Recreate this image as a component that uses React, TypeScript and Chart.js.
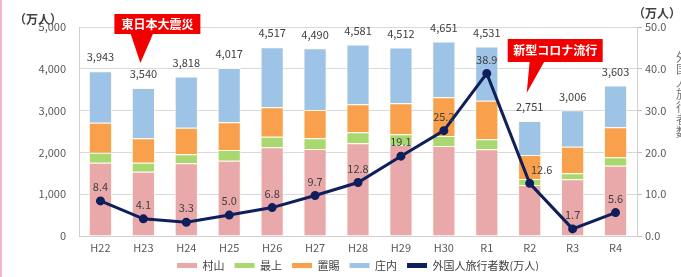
import React, { useEffect, useRef } from "react";
import { Chart, registerables } from "chart.js";

Chart.register(...registerables);

const categories = ["H22", "H23", "H24", "H25", "H26", "H27", "H28", "H29", "H30", "R1", "R2", "R3", "R4"];
const murayama = [1754, 1539, 1738, 1802, 2121, 2081, 2217, 2177, 2153, 2074, 1220, 1356, 1682];
const mogami = [240, 215, 216, 255, 255, 256, 263, 255, 239, 239, 144, 144, 201];
const okitama = [717, 583, 638, 663, 702, 677, 670, 742, 925, 924, 574, 637, 717];
const shonai = [1232, 1203, 1226, 1297, 1439, 1476, 1431, 1338, 1334, 1294, 813, 869, 1003];
const totals = [3943, 3540, 3818, 4017, 4517, 4490, 4581, 4512, 4651, 4531, 2751, 3006, 3603];
const foreign = [8.4, 4.1, 3.3, 5.0, 6.8, 9.7, 12.8, 19.1, 25.2, 38.9, 12.6, 1.7, 5.6];
const leftTicks = [0, 1000, 2000, 3000, 4000, 5000];
const rightTicks = [0, 10, 20, 30, 40, 50];
const seriesNames = ["村山", "最上", "置賜", "庄内", "外国人旅行者数(万人)"];
const unitLabel = "（万人）";
const rightTitle = "外国人旅行者数";
const calloutTexts = ["東日本大震災", "新型コロナ流行"];
const calloutIndex = [1, 10];

const FONT = '"Noto Sans CJK JP", "Noto Sans", sans-serif';
const COLORS = ["#E9A9AA", "#A9D870", "#F8A04B", "#9DC3E6"];
const NAVY = "#0E1F5B";
const lineLabelShift: Record<number, number> = { 10: 12 };

const calloutGeom = [
  { bx0: -29, bx1: 57, by0: 14, by1: 34, base0: -13, base1: 10, tipDx: -3, tipY: 63, size: 12 },
  { bx0: -22, bx1: 73, by0: 39, by1: 62, base0: 0, base1: 15, tipDx: -3, tipY: 93, size: 12 },
];

const decorPlugin = {
  id: "decor",
  afterLayout(chart: any) {
    const lg = chart.legend;
    if (lg) {
      lg.top -= 6;
      lg.bottom -= 6;
    }
  },
  afterDatasetsDraw(chart: any) {
    const ctx = chart.ctx;
    const x = chart.scales.x;
    const y = chart.scales.y;
    const y2 = chart.scales.y2;
    ctx.save();
    ctx.font = `11px ${FONT}`;
    ctx.fillStyle = "#404040";
    ctx.textAlign = "center";
    ctx.textBaseline = "middle";
    totals.forEach((t, i) => {
      ctx.fillText(t.toLocaleString("en-US"), x.getPixelForValue(i), y.getPixelForValue(t) - 14);
    });
    foreign.forEach((v, i) => {
      ctx.fillText(v.toFixed(1), x.getPixelForValue(i) + (lineLabelShift[i] || 0), y2.getPixelForValue(v) - 14);
    });
    calloutTexts.forEach((txt, k) => {
      const g = calloutGeom[k];
      const cx = x.getPixelForValue(calloutIndex[k]);
      ctx.fillStyle = "#F20000";
      ctx.beginPath();
      ctx.rect(cx + g.bx0, g.by0, g.bx1 - g.bx0, g.by1 - g.by0);
      ctx.fill();
      ctx.beginPath();
      ctx.moveTo(cx + g.base0, g.by1 - 1);
      ctx.lineTo(cx + g.tipDx, g.tipY);
      ctx.lineTo(cx + g.base1, g.by1 - 1);
      ctx.closePath();
      ctx.fill();
      ctx.fillStyle = "#FFFFFF";
      ctx.font = `bold ${g.size}px ${FONT}`;
      ctx.fillText(txt, cx + (g.bx0 + g.bx1) / 2, (g.by0 + g.by1) / 2);
    });
    ctx.restore();
  },
  afterDraw(chart: any) {
    const ctx = chart.ctx;
    ctx.save();
    ctx.fillStyle = "#F4B6C8";
    ctx.fillRect(0, 0, 2, chart.height);
    ctx.fillStyle = "#404040";
    ctx.font = `bold 12px ${FONT}`;
    ctx.textBaseline = "middle";
    ctx.textAlign = "center";
    ctx.fillText(unitLabel, 38, 19);
    ctx.fillText(unitLabel, 657, 13);
    ctx.fillStyle = "#777777";
    ctx.font = `12px ${FONT}`;
    Array.from(rightTitle).forEach((ch, i) => {
      ctx.fillText(ch, 682, 57 + i * 12.5);
    });
    ctx.restore();
  },
};

export default function App() {
  const ref = useRef<HTMLCanvasElement | null>(null);
  useEffect(() => {
    document.body.style.margin = "0";
    Chart.defaults.font.family = FONT;
    const barSets = [murayama, mogami, okitama, shonai].map((d, i) => ({
      type: "bar" as const,
      label: seriesNames[i],
      data: d,
      backgroundColor: COLORS[i],
      borderColor: "rgba(255,250,230,0.9)",
      borderWidth: 1,
      borderSkipped: "bottom" as const,
      yAxisID: "y",
      barPercentage: 0.54,
      categoryPercentage: 1,
      order: 1,
    }));
    const chart = new Chart(ref.current!, {
      type: "bar",
      data: {
        labels: categories,
        datasets: [
          ...barSets,
          {
            type: "line" as const,
            label: seriesNames[4],
            data: foreign,
            borderColor: NAVY,
            backgroundColor: NAVY,
            borderWidth: 3,
            pointRadius: 3,
            pointBackgroundColor: NAVY,
            pointBorderColor: NAVY,
            yAxisID: "y2",
            tension: 0,
            order: 0,
          } as any,
        ],
      },
      options: {
        animation: false,
        responsive: false,
        layout: { padding: { top: 27, left: 0, right: 0, bottom: 0 } },
        scales: {
          x: {
            stacked: true,
            grid: { display: false, drawTicks: false },
            border: { display: true, color: "#d0d0d0" },
            ticks: { color: "#595959", font: { size: 11 }, padding: 5 },
            afterFit: (s: any) => {
              s.height = 20;
            },
          },
          y: {
            stacked: true,
            min: leftTicks[0],
            max: leftTicks[leftTicks.length - 1],
            ticks: {
              stepSize: leftTicks[1] - leftTicks[0],
              color: "#595959",
              font: { size: 11 },
              padding: 13,
              callback: (v: any) => Number(v).toLocaleString("en-US"),
            },
            grid: { color: "#d9d9d9", drawTicks: false },
            border: { display: true, color: "#d0d0d0" },
            afterFit: (s: any) => {
              s.width = 79;
            },
          },
          y2: {
            position: "right",
            min: rightTicks[0],
            max: rightTicks[rightTicks.length - 1],
            ticks: {
              stepSize: rightTicks[1] - rightTicks[0],
              color: "#595959",
              font: { size: 11 },
              padding: 3,
              callback: (v: any) => Number(v).toFixed(1),
            },
            grid: { drawOnChartArea: false, tickLength: 5, color: "#bfbfbf" },
            border: { display: true, color: "#d0d0d0" },
            afterFit: (s: any) => {
              s.width = 44;
            },
          },
        },
        plugins: {
          legend: {
            position: "bottom",
            fullSize: false,
            maxHeight: 21,
            labels: {
              color: "#404040",
              font: { size: 11 },
              boxWidth: 20,
              boxHeight: 5,
              padding: 10,
              sort: (a: any, b: any) => a.datasetIndex - b.datasetIndex,
              generateLabels: (c: any) => {
                const items = Chart.defaults.plugins.legend.labels.generateLabels(c);
                return items.map((it: any) => ({ ...it, lineWidth: 0 }));
              },
            },
          },
          tooltip: { enabled: false },
        },
      } as any,
      plugins: [decorPlugin],
    });
    return () => chart.destroy();
  }, []);
  return (
    <div style={{ width: 681, height: 277, background: "#fff" }}>
      <canvas ref={ref} width={681} height={277} style={{ display: "block" }} />
    </div>
  );
}
